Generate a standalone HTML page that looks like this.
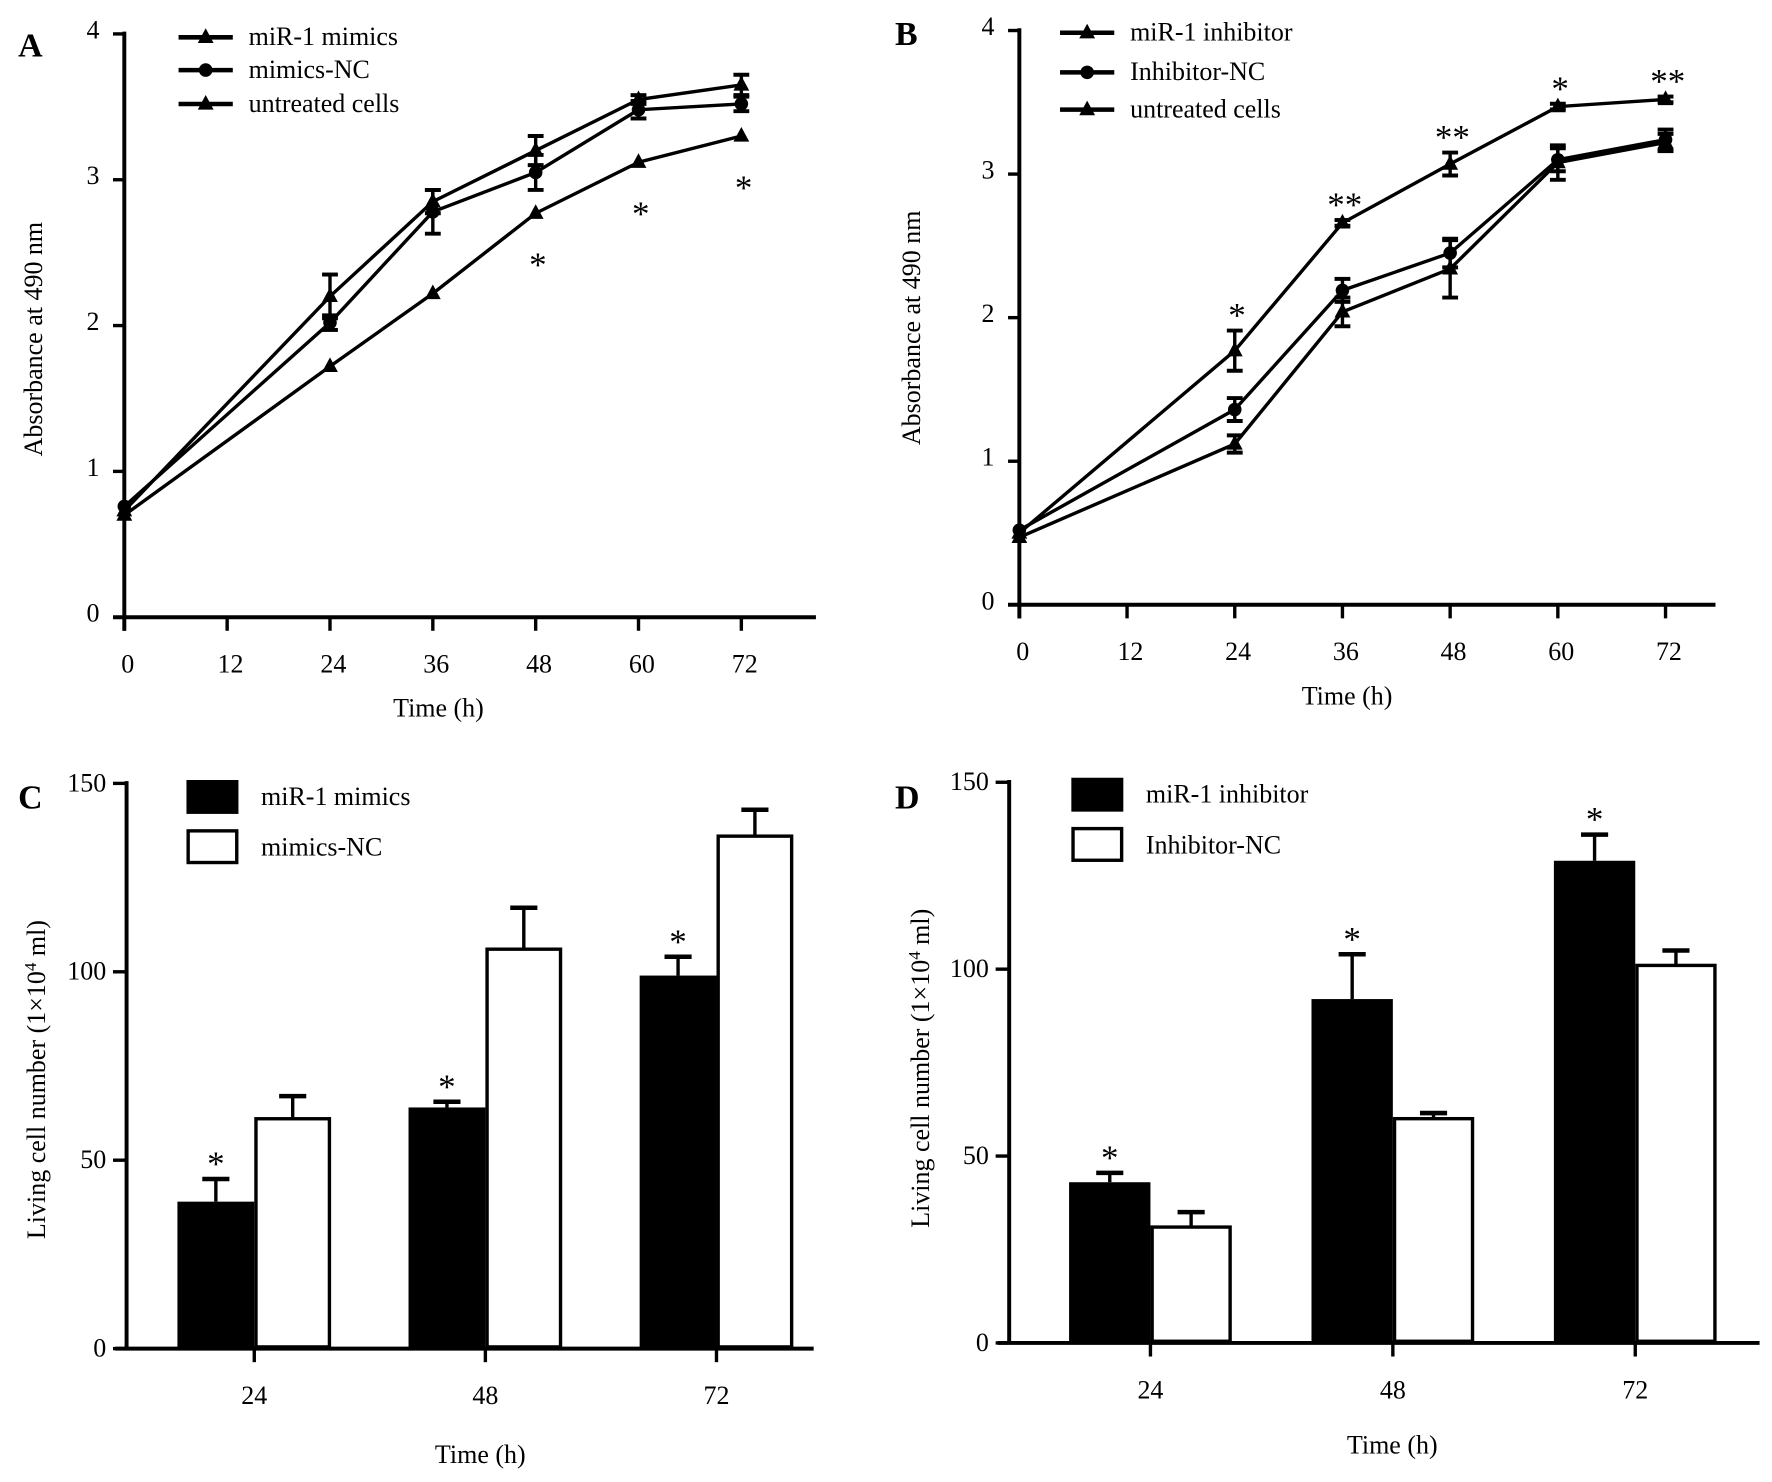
<!DOCTYPE html>
<html><head><meta charset="utf-8"><style>
html,body{margin:0;padding:0;background:#fff;}
svg{display:block;}
text{font-family:"Liberation Serif",serif;fill:#000;}
</style></head><body>
<svg id="fig" width="1772" height="1482" viewBox="0 0 1568 1311" preserveAspectRatio="none" xmlns="http://www.w3.org/2000/svg"></svg>
<script>
// Panel A data
const hoursA = [0, 24, 36, 48, 60, 72];
const mimicsA = [0.73, 2.2, 2.85, 3.2, 3.55, 3.65];
const mimicsErrA = [0, 0.15, 0.08, 0.1, 0.03, 0.07];
const mimicsNCA = [0.76, 2.02, 2.78, 3.05, 3.48, 3.52];
const mimicsNCErrA = [0, 0.05, 0.15, 0.12, 0.06, 0.05];
const untreatedA = [0.7, 1.72, 2.22, 2.77, 3.12, 3.3];
const untreatedErrA = [0, 0, 0, 0, 0, 0];
const starsA = ["", "", "", "*", "*", "*"];
// Panel B data
const hoursB = [0, 24, 36, 48, 60, 72];
const inhibB = [0.5, 1.77, 2.66, 3.07, 3.47, 3.52];
const inhibErrB = [0, 0.14, 0.02, 0.08, 0.02, 0.02];
const inhibNCB = [0.52, 1.36, 2.19, 2.45, 3.1, 3.24];
const inhibNCErrB = [0, 0.08, 0.08, 0.1, 0.08, 0.07];
const untreatedB = [0.47, 1.12, 2.04, 2.34, 3.08, 3.22];
const untreatedErrB = [0, 0.06, 0.1, 0.2, 0.12, 0.06];
const starsB = ["", "*", "**", "**", "*", "**"];
const xTicksLine = [0, 12, 24, 36, 48, 60, 72];
const yTicksLine = [0, 1, 2, 3, 4];
// Panel C data
const barCats = [24, 48, 72];
const mimicsC = [39, 64, 99];
const mimicsErrC = [6, 1.5, 5];
const mimicsNCC = [61, 106, 136];
const mimicsNCErrC = [6, 11, 7];
// Panel D data
const inhibD = [43, 92, 129];
const inhibErrD = [2.5, 12, 7];
const inhibNCD = [31, 60, 101];
const inhibNCErrD = [4, 1.5, 4];
const yTicksBar = [0, 50, 100, 150];

const NS = "http://www.w3.org/2000/svg";
const svg = document.getElementById('fig');
function mk(tag, attrs, parent, txt) {
  const e = document.createElementNS(NS, tag);
  for (const k in attrs) e.setAttribute(k, attrs[k]);
  if (txt !== undefined) e.textContent = txt;
  (parent || svg).appendChild(e);
  return e;
}
function line(p, x1, y1, x2, y2, w) { return mk('line', {x1, y1, x2, y2, stroke: '#000', 'stroke-width': w || 3}, p); }

function linePanel(cfg) {
  const g = mk('g', {});
  
  
  const X = h => cfg.x0 + (h / 12) * cfg.dx;
  const Y = v => cfg.y0 - v * cfg.dy;
  const ya = line(g, cfg.x0, Y(4) - 2, cfg.x0, cfg.y0 + 12, 3.5);
  
  
  const xa = line(g, cfg.x0 - 10, cfg.y0, cfg.xEnd, cfg.y0, 3.5);
  
  
  yTicksLine.forEach(t => {
    line(g, cfg.x0 - 10, Y(t), cfg.x0, Y(t), 3);
    const tl = mk('text', {x: cfg.x0 - 22, y: Y(t) + 4, 'font-size': 23, 'text-anchor': 'end'}, g, String(t));
    
    
  });
  xTicksLine.forEach(t => {
    line(g, X(t), cfg.y0, X(t), cfg.y0 + 12, 3);
    const tl = mk('text', {x: X(t) + 3, y: cfg.y0 + 49, 'font-size': 23, 'text-anchor': 'middle'}, g, String(t));
    
    
  });
  const xt = mk('text', {x: cfg.xTitleX, y: cfg.y0 + 88, 'font-size': 23, 'text-anchor': 'middle'}, g, 'Time (h)');
  
  
  const yt = mk('text', {x: 0, y: 0, 'font-size': 23, 'text-anchor': 'middle', transform: `translate(${cfg.yTitleX},${cfg.yTitleY}) rotate(-90)`}, g, 'Absorbance at 490 nm');
  
  
  const pl = mk('text', {x: cfg.labelX, y: cfg.labelY, 'font-size': 30, 'font-weight': 'bold'}, g, cfg.letter);
  
  
  cfg.series.forEach((s, si) => {
    const sg = mk('g', {}, g);
    
    
    const pts = s.vals.map((v, i) => X(cfg.hours[i]) + ',' + Y(v)).join(' ');
    mk('polyline', {points: pts, fill: 'none', stroke: '#000', 'stroke-width': 3}, sg);
    s.vals.forEach((v, i) => {
      const x = X(cfg.hours[i]);
      const e = s.err[i];
      if (e > 0) {
        line(sg, x, Y(v - e), x, Y(v + e), 3);
        line(sg, x - 7, Y(v + e), x + 7, Y(v + e), 3.5);
        line(sg, x - 7, Y(v - e), x + 7, Y(v - e), 3.5);
      }
      let m;
      if (s.marker === 'tri') m = mk('polygon', {points: `${x},${Y(v) - 8} ${x - 7},${Y(v) + 5} ${x + 7},${Y(v) + 5}`, fill: '#000'}, sg);
      else m = mk('circle', {cx: x, cy: Y(v), r: 6, fill: '#000'}, sg);
      
      
    });
    const ly = cfg.legY[si];
    const lg = mk('g', {}, g);
    
    
    line(lg, cfg.legX, ly, cfg.legX + 48, ly, 4);
    if (s.marker === 'tri') mk('polygon', {points: `${cfg.legX + 24},${ly - 8} ${cfg.legX + 17},${ly + 5} ${cfg.legX + 31},${ly + 5}`, fill: '#000'}, lg);
    else mk('circle', {cx: cfg.legX + 24, cy: ly, r: 6, fill: '#000'}, lg);
    mk('text', {x: cfg.legX + 62, y: ly + 7, 'font-size': 23}, lg, s.label);
  });
  cfg.stars.forEach((s, i) => {
    if (!s) return;
    const st = mk('text', {x: X(cfg.hours[i]) + 2, y: cfg.starY(i), 'font-size': 31, 'text-anchor': 'middle'}, g, s);
    
    
  });
}

linePanel({
  name: 'panel-a-chart', letter: 'A', labelX: 16, labelY: 50,
  x0: 110, dx: 91, y0: 546, dy: 129, xEnd: 722, xTitleX: 388, yTitleX: 37, yTitleY: 300,
  hours: hoursA, legX: 158, legY: [33, 62, 92],
  series: [
    {key: 'mimics', label: 'miR-1 mimics', vals: mimicsA, err: mimicsErrA, marker: 'tri'},
    {key: 'mimics-nc', label: 'mimics-NC', vals: mimicsNCA, err: mimicsNCErrA, marker: 'circ'},
    {key: 'untreated', label: 'untreated cells', vals: untreatedA, err: untreatedErrA, marker: 'tri'}
  ],
  stars: starsA, starY: i => 546 - untreatedA[i] * 129 + 56
});
linePanel({
  name: 'panel-b-chart', letter: 'B', labelX: 792, labelY: 40,
  x0: 902, dx: 95.3, y0: 535, dy: 127, xEnd: 1518, xTitleX: 1192, yTitleX: 814, yTitleY: 290,
  hours: hoursB, legX: 938, legY: [29, 64, 97],
  series: [
    {key: 'inhibitor', label: 'miR-1 inhibitor', vals: inhibB, err: inhibErrB, marker: 'tri'},
    {key: 'inhibitor-nc', label: 'Inhibitor-NC', vals: inhibNCB, err: inhibNCErrB, marker: 'circ'},
    {key: 'untreated', label: 'untreated cells', vals: untreatedB, err: untreatedErrB, marker: 'tri'}
  ],
  stars: starsB, starY: i => 535 - (inhibB[i] + inhibErrB[i]) * 127 - 3
});

function barPanel(cfg) {
  const g = mk('g', {});
  
  
  const Y = v => cfg.y0 - v * cfg.dy;
  const X = i => cfg.xFirst + i * cfg.step;
  const ya = line(g, cfg.x0, Y(150) - 2, cfg.x0, cfg.y0, 3.5);
  
  
  yTicksBar.forEach(t => {
    line(g, cfg.x0 - 12, Y(t), cfg.x0, Y(t), 3);
    const tl = mk('text', {x: cfg.x0 - 18, y: Y(t) + 7, 'font-size': 23, 'text-anchor': 'end'}, g, String(t));
    
    
  });
  const bw = cfg.bw;
  barCats.forEach((c, i) => {
    const x = X(i);
    const a = cfg.a[i], ae = cfg.ae[i], b = cfg.b[i], be = cfg.be[i];
    line(g, x - bw / 2, Y(a), x - bw / 2, Y(a + ae), 3);
    line(g, x - bw / 2 - 12, Y(a + ae), x - bw / 2 + 12, Y(a + ae), 4);
    line(g, x + bw / 2, Y(b), x + bw / 2, Y(b + be), 3);
    line(g, x + bw / 2 - 12, Y(b + be), x + bw / 2 + 12, Y(b + be), 4);
    const r1 = mk('rect', {x: x - bw, y: Y(a), width: bw, height: a * cfg.dy, fill: '#000'}, g);
    
    
    const r2 = mk('rect', {x: x + 1.5, y: Y(b), width: bw - 3, height: b * cfg.dy - 1.5, fill: '#fff', stroke: '#000', 'stroke-width': 3}, g);
    
    
    const st = mk('text', {x: x - bw / 2, y: Y(a + ae) - 3, 'font-size': 31, 'text-anchor': 'middle'}, g, '*');
    
    
    line(g, x, cfg.y0, x, cfg.y0 + 12, 3);
    const tl = mk('text', {x: x, y: cfg.y0 + 49, 'font-size': 23, 'text-anchor': 'middle'}, g, String(c));
    
    
  });
  const xa = line(g, cfg.x0 - 10, cfg.y0, cfg.xEnd, cfg.y0, 3.5);
  
  
  const xt = mk('text', {x: cfg.xTitleX, y: cfg.xTitleY, 'font-size': 23, 'text-anchor': 'middle'}, g, 'Time (h)');
  
  
  const yt = mk('text', {x: 0, y: 0, 'font-size': 23, 'text-anchor': 'middle', transform: `translate(${cfg.yTitleX},${cfg.yTitleY}) rotate(-90)`}, g);
  
  
  yt.innerHTML = 'Living cell number  (1×10<tspan dy="-8" font-size="15">4</tspan><tspan dy="8"> ml)</tspan>';
  const pl = mk('text', {x: cfg.labelX, y: cfg.labelY, 'font-size': 30, 'font-weight': 'bold'}, g, cfg.letter);
  
  
  const l1 = mk('g', {}, g);
  
  
  mk('rect', {x: cfg.legX, y: cfg.legY, width: 46, height: 30, fill: '#000'}, l1);
  mk('text', {x: cfg.legX + 66, y: cfg.legY + 22, 'font-size': 23}, l1, cfg.labA);
  const l2 = mk('g', {}, g);
  
  
  mk('rect', {x: cfg.legX + 1.5, y: cfg.legY + 45, width: 43, height: 28, fill: '#fff', stroke: '#000', 'stroke-width': 3}, l2);
  mk('text', {x: cfg.legX + 66, y: cfg.legY + 67, 'font-size': 23}, l2, cfg.labB);
}

barPanel({
  name: 'panel-c-chart', letter: 'C', labelX: 16, labelY: 715,
  x0: 112, y0: 1193, dy: 500 / 150, xEnd: 720, xFirst: 225, step: 204.5, bw: 68,
  a: mimicsC, ae: mimicsErrC, b: mimicsNCC, be: mimicsNCErrC, keyA: 'mimics', keyB: 'mimics-nc',
  labA: 'miR-1 mimics', labB: 'mimics-NC', legX: 165, legY: 690,
  xTitleX: 425, xTitleY: 1294, yTitleX: 40, yTitleY: 955
});
barPanel({
  name: 'panel-d-chart', letter: 'D', labelX: 792, labelY: 715,
  x0: 893, y0: 1188, dy: 496 / 150, xEnd: 1557, xFirst: 1018, step: 214.5, bw: 72,
  a: inhibD, ae: inhibErrD, b: inhibNCD, be: inhibNCErrD, keyA: 'inhibitor', keyB: 'inhibitor-nc',
  labA: 'miR-1 inhibitor', labB: 'Inhibitor-NC', legX: 948, legY: 688,
  xTitleX: 1232, xTitleY: 1286, yTitleX: 822, yTitleY: 945
});
</script>
</body></html>
